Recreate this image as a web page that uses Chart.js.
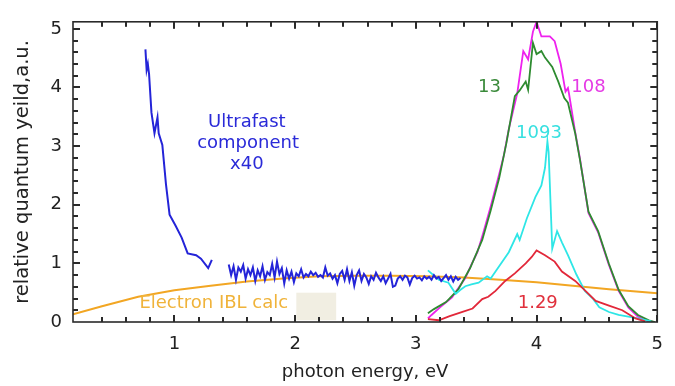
<!DOCTYPE html>
<html>
<head>
<meta charset="utf-8">
<script src="https://cdn.jsdelivr.net/npm/chart.js@4"></script>
<style>
  body { margin: 0; background: #fff; }
  #wrap { width: 675px; height: 386px; position: relative; }
</style>
</head>
<body>
<div id="wrap"><canvas id="Chart"></canvas></div>
<script>
// data (photon energy in eV, yield in a.u.)
const blueX1 = [0.76, 0.77, 0.78, 0.79, 0.81, 0.835, 0.86, 0.87, 0.90, 0.93, 0.96, 1.01, 1.06, 1.11, 1.18, 1.22, 1.28, 1.31];
const blueY1 = [4.65, 4.30, 4.40, 4.23, 3.57, 3.22, 3.49, 3.22, 3.02, 2.35, 1.83, 1.64, 1.44, 1.17, 1.14, 1.08, 0.92, 1.06];

const blueX2 = [1.45, 1.47, 1.49, 1.51, 1.53, 1.55, 1.57, 1.59, 1.61, 1.63, 1.65, 1.67, 1.69, 1.71, 1.73, 1.75, 1.77, 1.79,
  1.81, 1.83, 1.85, 1.87, 1.89, 1.91, 1.93, 1.95, 1.97, 1.99, 2.01, 2.03, 2.05, 2.07, 2.09, 2.11, 2.13, 2.15, 2.17, 2.19,
  2.21, 2.23, 2.25, 2.27, 2.29, 2.31, 2.33, 2.35, 2.37, 2.39, 2.41, 2.43, 2.45, 2.47, 2.49, 2.51, 2.53, 2.55, 2.57, 2.59,
  2.61, 2.63, 2.65, 2.67, 2.69, 2.71, 2.73, 2.75, 2.77, 2.79, 2.81, 2.83, 2.85, 2.87, 2.89, 2.91, 2.93, 2.95, 2.97, 2.99,
  3.01, 3.03, 3.05, 3.07, 3.09, 3.11, 3.13, 3.15, 3.17, 3.19, 3.21, 3.23, 3.25, 3.27, 3.29, 3.31, 3.33, 3.35, 3.37];
const blueY2 = [0.98, 0.80, 0.95, 0.72, 0.93, 0.86, 0.97, 0.74, 0.90, 0.80, 0.93, 0.70, 0.88, 0.78, 0.95, 0.72, 0.85, 0.80,
  0.99, 0.76, 1.03, 0.82, 0.92, 0.66, 0.88, 0.74, 0.86, 0.68, 0.83, 0.78, 0.90, 0.76, 0.82, 0.78, 0.86, 0.80, 0.84, 0.77,
  0.80, 0.76, 0.93, 0.79, 0.83, 0.74, 0.80, 0.66, 0.82, 0.87, 0.72, 0.90, 0.70, 0.85, 0.62, 0.80, 0.88, 0.70, 0.82, 0.76,
  0.65, 0.78, 0.72, 0.84, 0.76, 0.70, 0.78, 0.66, 0.74, 0.82, 0.60, 0.62, 0.74, 0.78, 0.72, 0.79, 0.76, 0.64, 0.75, 0.79,
  0.74, 0.76, 0.71, 0.78, 0.74, 0.77, 0.72, 0.80, 0.74, 0.77, 0.70, 0.75, 0.80, 0.72, 0.78, 0.69, 0.77, 0.72, 0.75];

const ibl_X = [0.16, 0.4, 0.7, 1.0, 1.3, 1.6, 1.9, 2.2, 2.5, 2.8, 3.1, 3.4, 3.7, 4.0, 4.3, 4.6, 5.0];
const ibl_Y = [0.13, 0.27, 0.43, 0.54, 0.62, 0.69, 0.74, 0.78, 0.79, 0.79, 0.78, 0.76, 0.72, 0.68, 0.62, 0.56, 0.49];

const magX = [3.10, 3.13, 3.20, 3.30, 3.41, 3.46, 3.51, 3.56, 3.62, 3.69, 3.73, 3.77, 3.84, 3.89, 3.93, 3.97, 4.00, 4.04,
  4.11, 4.15, 4.20, 4.24, 4.26, 4.27, 4.32, 4.36, 4.43, 4.51, 4.60, 4.68, 4.76, 4.84, 4.93, 4.97];
const magY = [0.06, 0.12, 0.25, 0.42, 0.75, 0.98, 1.19, 1.53, 1.97, 2.52, 2.85, 3.29, 3.90, 4.62, 4.48, 4.95, 5.12, 4.87,
  4.87, 4.79, 4.40, 3.93, 3.99, 3.88, 3.24, 2.78, 1.86, 1.53, 0.97, 0.53, 0.25, 0.09, 0.01, 0.00];

const grnX = [3.10, 3.15, 3.25, 3.35, 3.45, 3.55, 3.62, 3.69, 3.75, 3.82, 3.86, 3.91, 3.93, 3.97, 4.00, 4.04, 4.07, 4.13,
  4.18, 4.23, 4.26, 4.32, 4.36, 4.43, 4.51, 4.60, 4.68, 4.76, 4.84, 4.93, 4.98];
const grnY = [0.15, 0.22, 0.34, 0.55, 0.92, 1.40, 1.90, 2.45, 3.05, 3.85, 3.95, 4.10, 3.96, 4.76, 4.57, 4.62, 4.51, 4.35,
  4.10, 3.82, 3.74, 3.22, 2.76, 1.88, 1.55, 0.99, 0.55, 0.27, 0.12, 0.03, 0.00];

const cyanX = [3.10, 3.19, 3.27, 3.33, 3.37, 3.41, 3.46, 3.52, 3.59, 3.62, 3.69, 3.77, 3.84, 3.86, 3.92, 3.99, 4.04, 4.07,
  4.09, 4.10, 4.13, 4.17, 4.21, 4.26, 4.33, 4.40, 4.47, 4.52, 4.60, 4.68, 4.76, 4.84, 4.95];
const cyanY = [0.88, 0.72, 0.67, 0.48, 0.55, 0.61, 0.64, 0.67, 0.78, 0.74, 0.95, 1.19, 1.50, 1.40, 1.77, 2.13, 2.33, 2.63,
  3.08, 2.90, 1.25, 1.55, 1.36, 1.14, 0.81, 0.53, 0.39, 0.25, 0.17, 0.12, 0.09, 0.06, 0.01];

const redX = [3.10, 3.19, 3.28, 3.38, 3.47, 3.55, 3.60, 3.66, 3.74, 3.82, 3.91, 3.96, 4.00, 4.07, 4.15, 4.21, 4.32, 4.42,
  4.49, 4.60, 4.71, 4.82, 4.90];
const redY = [0.05, 0.03, 0.10, 0.17, 0.23, 0.39, 0.43, 0.53, 0.70, 0.83, 1.00, 1.11, 1.22, 1.14, 1.03, 0.86, 0.70, 0.50,
  0.36, 0.28, 0.20, 0.06, 0.01];

const xTickVals = [1, 2, 3, 4, 5];
const yTickVals = [0, 1, 2, 3, 4, 5];

// annotations: text, colour, energy, yield
const notes = [
  ['Ultrafast', '#2a2ad8', 1.60, 3.40],
  ['component', '#2a2ad8', 1.61, 3.04],
  ['x40', '#2a2ad8', 1.60, 2.69],
  ['13', '#3a8a3a', 3.61, 4.01],
  ['108', '#e53ae5', 4.43, 4.01],
  ['1093', '#38e0e0', 4.02, 3.22],
  ['1.29', '#e0303c', 4.01, 0.32]
];

function pts(xs, ys) {
  return xs.map((x, i) => ({ x: x, y: ys[i] }));
}

function line(data, color, width) {
  return { data: data, borderColor: color, borderWidth: width, showLine: true, pointRadius: 0, tension: 0, fill: false };
}

// frame, inward ticks on all four sides, and the in-plot labels
const frame = {
  id: 'frame',
  beforeDatasetsDraw(c) {
    const { ctx, scales: { x, y } } = c;
    // pale box behind "calc"
    ctx.save();
    ctx.fillStyle = '#f1eee2';
    const l = x.getPixelForValue(2.01), r = x.getPixelForValue(2.34);
    const t = y.getPixelForValue(0.50), b = y.getPixelForValue(0.03);
    ctx.fillRect(l, t, r - l, b - t);
    ctx.restore();
  },
  afterDraw(c) {
    const { ctx, chartArea: a, scales: { x, y } } = c;
    ctx.save();
    ctx.strokeStyle = '#2a2a2a';
    ctx.lineWidth = 1.6;
    ctx.strokeRect(a.left, a.top, a.right - a.left, a.bottom - a.top);
    ctx.fillStyle = '#2a2a2a';
    for (let i = 1; i <= 25; i++) {
      const len = i % 5 === 0 ? 7 : 5;
      const px = Math.round(x.getPixelForValue(i * 0.2));
      if (px > a.left + 8) {
        ctx.fillRect(px - 1, a.bottom - len, 2, len);
        ctx.fillRect(px - 1, a.top, 2, len);
      }
      const py = Math.round(y.getPixelForValue(i * 0.2));
      ctx.fillRect(a.left, py - 1, len, 2);
      ctx.fillRect(a.right - len, py - 1, len, 2);
    }

    ctx.font = '18px "DejaVu Sans"';
    ctx.textAlign = 'center';
    ctx.textBaseline = 'middle';
    notes.forEach(n => {
      ctx.fillStyle = n[1];
      ctx.fillText(n[0], x.getPixelForValue(n[2]), y.getPixelForValue(n[3]));
    });
    ctx.fillStyle = '#f0b33a';
    ctx.textAlign = 'left';
    ctx.fillText('Electron IBL calc', x.getPixelForValue(0.71), y.getPixelForValue(0.32));
    ctx.restore();
  }
};

Chart.defaults.font.family = '"DejaVu Sans", Verdana, sans-serif';
Chart.defaults.color = '#222';

new Chart(document.getElementById('Chart'), {
  type: 'scatter',
  data: {
    datasets: [
      line(pts(blueX1, blueY1), '#2424d8', 2),
      line(pts(blueX2, blueY2), '#2424d8', 2),
      line(pts(redX, redY), '#e2283a', 1.8),
      line(pts(cyanX, cyanY), '#2ee6e6', 1.8),
      line(pts(grnX, grnY), '#2e8b30', 1.8),
      line(pts(magX, magY), '#ee22ee', 1.8),
      line(pts(ibl_X, ibl_Y), '#f2a623', 2)
    ]
  },
  options: {
    responsive: true,
    maintainAspectRatio: false,
    animation: false,
    layout: { padding: { left: 0, right: 14, top: 13, bottom: 0 } },
    plugins: { legend: { display: false }, tooltip: { enabled: false } },
    scales: {
      x: {
        type: 'linear', min: 0.16, max: 5,
        afterBuildTicks: s => { s.ticks = xTickVals.map(v => ({ value: v })); },
        afterFit: s => { s.height = 64; },
        grid: { display: false, drawTicks: false },
        border: { display: false },
        ticks: { padding: 12, font: { size: 18 }, callback: v => String(v) },
        title: { display: true, text: 'photon energy, eV', font: { size: 18 }, padding: { top: 0, bottom: 3 } }
      },
      y: {
        type: 'linear', min: 0, max: 5.12,
        afterBuildTicks: s => { s.ticks = yTickVals.map(v => ({ value: v })); },
        afterFit: s => { s.width = 73; },
        grid: { display: false, drawTicks: false },
        border: { display: false },
        ticks: { padding: 11, font: { size: 18 }, callback: v => String(v) },
        title: { display: true, text: 'relative quantum yeild,a.u.', font: { size: 19.5 }, padding: { top: 11, bottom: 0 } }
      }
    }
  },
  plugins: [frame]
});
</script>
</body>
</html>
